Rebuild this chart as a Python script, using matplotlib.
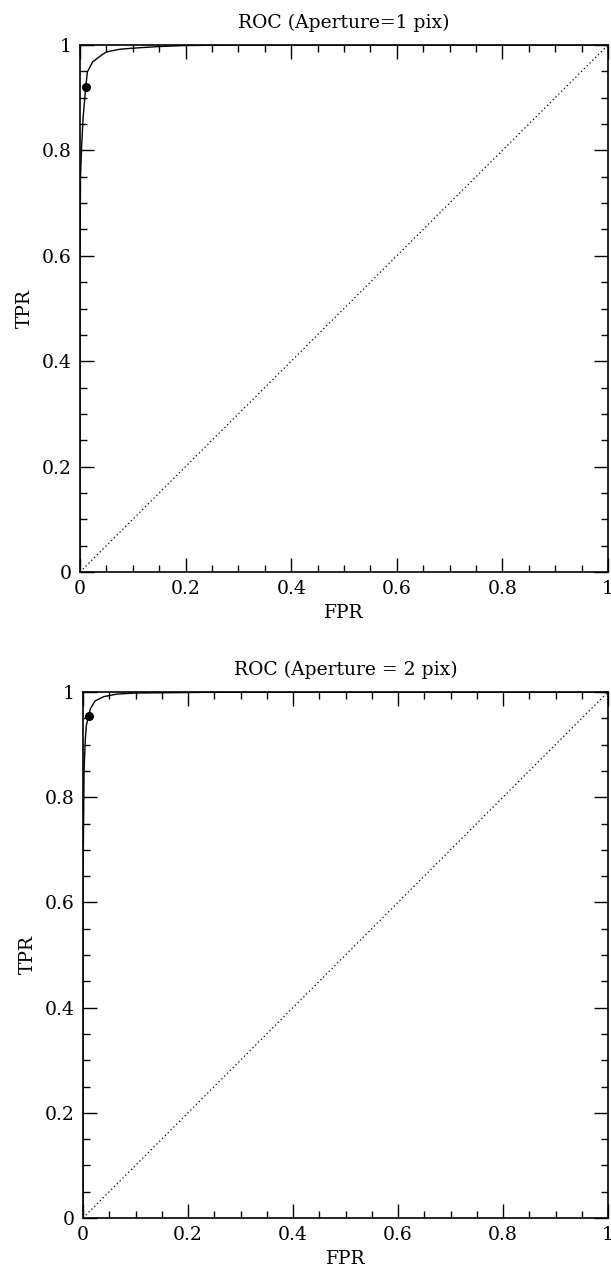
import matplotlib
matplotlib.use("Agg")
import matplotlib.pyplot as plt
from matplotlib.ticker import MultipleLocator, FixedLocator

plt.rcParams['font.family'] = ['DejaVu Serif']

# Aperture = 1 pix ROC curve
fpr1 = [0.0, 0.0, 0.001, 0.003, 0.006, 0.0108, 0.014, 0.024, 0.041, 0.0505, 0.076, 0.10, 0.148, 0.2, 0.3, 1.0]
tpr1 = [0.0, 0.60, 0.75, 0.807, 0.864, 0.92, 0.949, 0.968, 0.981, 0.987, 0.992, 0.994, 0.997, 0.999, 1.0, 1.0]
op1 = (0.0108, 0.92)

# Aperture = 2 pix ROC curve
fpr2 = [0.0, 0.0, 0.002, 0.0044, 0.0063, 0.0107, 0.014, 0.023, 0.039, 0.064, 0.10, 0.2, 0.3, 1.0]
tpr2 = [0.0, 0.63, 0.85, 0.910, 0.936, 0.955, 0.968, 0.983, 0.991, 0.996, 0.998, 0.999, 1.0, 1.0]
op2 = (0.0107, 0.955)

titles = ["ROC (Aperture=1 pix)", "ROC (Aperture = 2 pix)"]
tick_vals = [0, 0.2, 0.4, 0.6, 0.8, 1.0]
tick_labels = ["0", "0.2", "0.4", "0.6", "0.8", "1"]

W, H = 611, 1269
fig = plt.figure(figsize=(W / 100, H / 100), dpi=100)

boxes = [
    (80, 45, 608, 572),
    (83, 692, 608, 1218),
]

for (l, t, r, b), fpr, tpr, op, title in zip(boxes, [fpr1, fpr2], [tpr1, tpr2], [op1, op2], titles):
    ax = fig.add_axes([l / W, 1 - b / H, (r - l) / W, (b - t) / H])
    ax.plot([0, 1], [0, 1], linestyle=(0, (1, 2.2)), color='black', lw=0.9)
    ax.plot(fpr, tpr, color='black', lw=1.0)
    ax.plot([op[0]], [op[1]], 'o', color='black', ms=5.5)
    ax.set_xlim(0, 1)
    ax.set_ylim(0, 1)
    ax.xaxis.set_major_locator(FixedLocator(tick_vals))
    ax.yaxis.set_major_locator(FixedLocator(tick_vals))
    ax.set_xticklabels(tick_labels)
    ax.set_yticklabels(tick_labels)
    ax.xaxis.set_minor_locator(MultipleLocator(0.05))
    ax.yaxis.set_minor_locator(MultipleLocator(0.05))
    ax.tick_params(which='both', direction='in', top=True, right=True, labelsize=13.5, width=1.0)
    ax.tick_params(which='major', length=10, pad=6)
    ax.tick_params(which='minor', length=5)
    for s in ax.spines.values():
        s.set_linewidth(1.2)
    ax.set_xlabel("FPR", fontsize=13.5, labelpad=4)
    ax.set_ylabel("TPR", fontsize=13.5, labelpad=6)
    ax.set_title(title, fontsize=13.5, pad=12)

fig.savefig("out.png", dpi=100)
